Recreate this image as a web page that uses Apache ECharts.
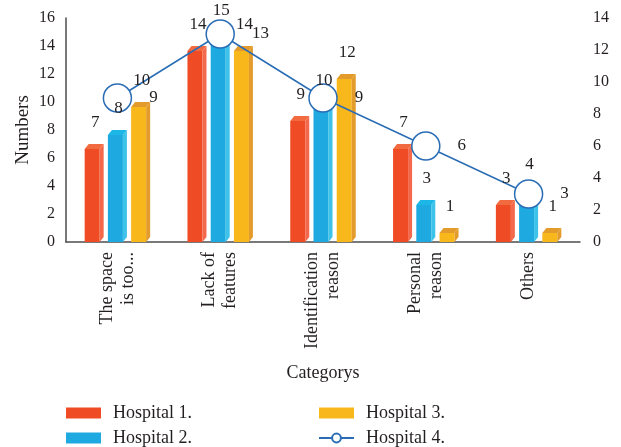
<!DOCTYPE html>
<html>
<head>
<meta charset="utf-8">
<script src="https://cdn.jsdelivr.net/npm/echarts@6/dist/echarts.min.js"></script>
<style>
  html, body { margin: 0; padding: 0; background: #fff; }
  #chart { width: 621px; height: 447px; }
</style>
</head>
<body>
<div id="chart"></div>
<script>
// Categories and per-hospital counts
const categories = ['The space\nis too...', 'Lack of\nfeatures', 'Identification\nreason', 'Personal\nreason', 'Others'];
const hospital1 = [7, 14, 9, 7, 3];
const hospital2 = [8, 15, 10, 3, 4];
const hospital3 = [10, 14, 12, 1, 1];
const hospital4 = [9, 13, 9, 6, 3];   // plotted against the right axis

const leftAxisMax = 16;
const rightAxisMax = 14;
const tickStep = 2;

const FONT = 'Liberation Serif';
const TEXT = '#231F20';
const AXIS = '#4D4D4D';
const LINE_BLUE = '#2A6DB4';

const barColors = [
  { front: '#EF4B24', top: '#F26B40', side: '#F4694C' },
  { front: '#1EA9E1', top: '#1CB7E6', side: '#3DC2EA' },
  { front: '#F8B71B', top: '#E39C2B', side: '#E39C2B' }
];

const DX = 4, DY = 5; // depth of the 3D faces

function slotGeometry(api, slot) {
  const idx = api.value(0);
  const val = api.value(1);
  const base = api.coord([idx, 0]);
  const top = api.coord([idx, val]);
  const band = api.size([1, 0])[0];
  const w = band * 0.146;
  const pitch = band * 0.226;
  const cx = base[0] + (slot - 1) * pitch - 2;
  return { val, cx, w, yb: base[1], ytop: top[1] };
}

// 3D-looking bar: front face, right side face and top face
function barRenderer(slot) {
  const c = barColors[slot];
  return function (params, api) {
    const g = slotGeometry(api, slot);
    const x0 = g.cx - g.w / 2, x1 = g.cx + g.w / 2;
    const yb = g.yb, yt = g.ytop + DY;
    return {
      type: 'group',
      children: [
        { type: 'rect', shape: { x: x0, y: yt, width: g.w, height: Math.max(0, yb - yt) }, style: { fill: c.front } },
        { type: 'polygon', shape: { points: [[x1, yt], [x1 + DX, yt - DY], [x1 + DX, yb - DY], [x1, yb]] }, style: { fill: c.side } },
        { type: 'polygon', shape: { points: [[x0, yt], [x0 + DX, yt - DY], [x1 + DX, yt - DY], [x1, yt]] }, style: { fill: c.top } }
      ]
    };
  };
}

// value text above each bar
function labelRenderer(slot) {
  return function (params, api) {
    const g = slotGeometry(api, slot);
    return {
      type: 'text',
      x: g.cx + 3,
      y: g.ytop - 21,
      style: {
        text: String(g.val),
        fontFamily: FONT,
        fontSize: 17,
        fill: TEXT,
        align: 'center',
        verticalAlign: 'middle'
      }
    };
  };
}

const barData = [hospital1, hospital2, hospital3].map(arr => arr.map((v, i) => [i, v]));
const barNames = ['Hospital 1.', 'Hospital 2.', 'Hospital 3.'];

const series = [];
barData.forEach((data, s) => {
  series.push({
    name: barNames[s],
    type: 'custom',
    yAxisIndex: 0,
    data: data,
    encode: { x: 0, y: 1 },
    itemStyle: { color: barColors[s].front },
    renderItem: barRenderer(s),
    z: 2
  });
});
series.push({
  name: 'Hospital 4.',
  type: 'line',
  yAxisIndex: 1,
  data: hospital4,
  symbol: 'circle',
  symbolSize: 28,
  lineStyle: { color: LINE_BLUE, width: 1.5 },
  itemStyle: { color: '#fff', borderColor: LINE_BLUE, borderWidth: 1.5 },
  label: {
    show: true,
    position: 'right',
    distance: 17,
    fontFamily: FONT,
    fontSize: 17,
    color: TEXT
  },
  z: 3
});
barData.forEach((data, s) => {
  series.push({
    name: barNames[s] + ' values',
    type: 'custom',
    yAxisIndex: 0,
    data: data,
    encode: { x: 0, y: 1 },
    renderItem: labelRenderer(s),
    z: 5,
    silent: true
  });
});

const legendText = { fontFamily: FONT, fontSize: 18, color: TEXT, lineHeight: 18, padding: [0, 0, 0, 7] };

const option = {
  animation: false,
  backgroundColor: '#fff',
  grid: { left: 66, right: 41, top: 18, bottom: 205 },
  legend: [
    {
      left: 66, top: 404, orient: 'vertical', padding: 0, height: 43,
      itemWidth: 35, itemHeight: 11, itemGap: 7,
      textStyle: legendText,
      data: [{ name: 'Hospital 1.', icon: 'rect' }, { name: 'Hospital 2.', icon: 'rect' }]
    },
    {
      left: 318, top: 404, orient: 'vertical', padding: 0, height: 43,
      itemWidth: 35, itemHeight: 11, itemGap: 7,
      textStyle: legendText,
      data: [{ name: 'Hospital 3.', icon: 'rect' }, { name: 'Hospital 4.' }]
    }
  ],
  xAxis: {
    type: 'category',
    data: categories,
    boundaryGap: true,
    axisLine: { lineStyle: { color: AXIS, width: 1.5 } },
    axisTick: { show: false },
    axisLabel: { rotate: 90, margin: 10, interval: 0, fontFamily: FONT, fontSize: 18, lineHeight: 21, color: TEXT },
    name: 'Categorys',
    nameLocation: 'middle',
    nameGap: 122,
    nameMoveOverlap: false,
    nameTextStyle: { fontFamily: FONT, fontSize: 18, color: TEXT }
  },
  yAxis: [
    {
      type: 'value',
      min: 0, max: leftAxisMax, interval: tickStep,
      axisLine: { show: true, lineStyle: { color: AXIS, width: 1.5 } },
      axisTick: { show: false },
      splitLine: { show: false },
      axisLabel: { margin: 11, fontFamily: FONT, fontSize: 16, color: TEXT },
      name: 'Numbers',
      nameLocation: 'middle',
      nameRotate: 90,
      nameGap: 33,
      nameMoveOverlap: false,
      nameTextStyle: { fontFamily: FONT, fontSize: 19, color: TEXT }
    },
    {
      type: 'value',
      position: 'right',
      min: 0, max: rightAxisMax, interval: tickStep,
      axisLine: { show: false },
      axisTick: { show: false },
      splitLine: { show: false },
      axisLabel: { margin: 13, fontFamily: FONT, fontSize: 16, color: TEXT }
    }
  ],
  series: series
};

const chart = echarts.init(document.getElementById('chart'), null, { renderer: 'canvas' });
chart.setOption(option);
</script>
</body>
</html>
